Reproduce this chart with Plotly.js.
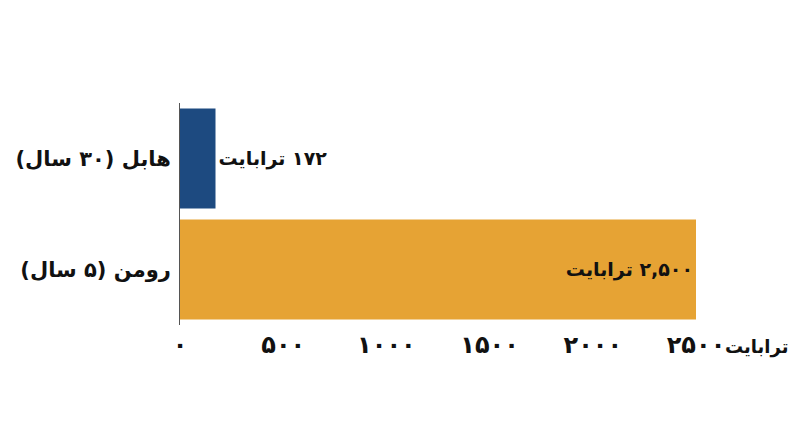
<!DOCTYPE html>
<html>
<head>
<meta charset="utf-8">
<script src="https://cdn.plot.ly/plotly-3.0.1.min.js"></script>
<style>
  body { margin: 0; background: #fff; }
  #chart { width: 800px; height: 447px; }
</style>
</head>
<body>
<div id="chart"></div>
<script>
'use strict'

// RLM keeps the Persian strings in right-to-left order inside SVG text
const RLM = '\u200F';

const categories = ['هابل (۳۰ سال)', 'رومن (۵ سال)'];
const dataVolumes = [172, 2500];
const valueLabels = ['۱۷۲ ترابایت', '۲,۵۰۰ ترابایت'];
const barColors = ['#1d4a80', '#e6a334'];
const tickVals = [0, 500, 1000, 1500, 2000, 2500];
const tickText = ['۰', '۵۰۰', '۱۰۰۰', '۱۵۰۰', '۲۰۰۰', '۲۵۰۰'];
const unitTitle = 'ترابایت';

const font = 'DejaVu Sans, Noto Sans, sans-serif';
const rtl = s => RLM + s + RLM;

let trace = {
    type: 'bar',
    orientation: 'h',
    y: categories.map(rtl),
    x: dataVolumes,
    text: valueLabels.map(rtl),
    textposition: ['outside', 'inside'],
    insidetextanchor: 'end',
    constraintext: 'none',
    cliponaxis: false,
    textfont: { family: font, size: 19, color: '#111', weight: 'bold' },
    marker: { color: barColors },
    hoverinfo: 'none'
}

const layout = {
    width: 800,
    height: 447,
    margin: { l: 180, r: 104, t: 103, b: 122 },
    paper_bgcolor: '#ffffff',
    plot_bgcolor: '#ffffff',
    showlegend: false,
    bargap: 0.1,
    font: { family: font, color: '#111' },
    xaxis: {
        range: [0, 2500],
        tickvals: tickVals,
        ticktext: tickText,
        showgrid: false,
        zeroline: false,
        showline: false,
        ticks: '',
        ticklabelstandoff: 3,
        tickfont: { family: font, size: 24, color: '#111', weight: 'bold' }
    },
    yaxis: {
        autorange: 'reversed',
        showgrid: false,
        zeroline: false,
        showline: true,
        linecolor: '#555',
        linewidth: 1,
        ticks: '',
        ticklabelstandoff: 4,
        tickfont: { family: font, size: 21, color: '#111', weight: 'bold' }
    },
    annotations: [{
        xref: 'paper', yref: 'paper',
        x: 1, y: 0,
        xanchor: 'left', yanchor: 'middle',
        xshift: 27, yshift: -22,
        showarrow: false,
        text: rtl(unitTitle),
        font: { family: font, size: 18, color: '#111', weight: 'bold' }
    }]
}

Plotly.newPlot('chart', [trace], layout, { displayModeBar: false, staticPlot: true });
</script>
</body>
</html>
